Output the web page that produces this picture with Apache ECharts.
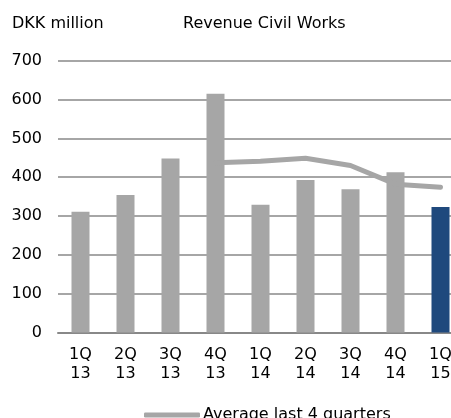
<!DOCTYPE html>
<html>
<head>
<meta charset="utf-8">
<script src="https://cdn.jsdelivr.net/npm/echarts@6/dist/echarts.min.js"></script>
<style>
html,body{margin:0;padding:0;background:#fff;overflow:hidden;width:451px;height:418px;}
#chart{width:463px;height:432px;}
</style>
</head>
<body>
<div id="chart"></div>
<script>
var categories = ['1Q\n13','2Q\n13','3Q\n13','4Q\n13','1Q\n14','2Q\n14','3Q\n14','4Q\n14','1Q\n15'];
var revenue = [311, 354, 448, 615, 329, 393, 369, 413, 323];
var average = [null, null, null, 437, 441, 449, 430, 382, 374];
var yTicks = [0, 100, 200, 300, 400, 500, 600, 700];

var FONT = 'DejaVu Sans';
var FS = 16;
var grey = '#a6a6a6';
var blue = '#1f497d';

var barData = revenue.map(function (v, i) {
  return i === revenue.length - 1 ? { value: v, itemStyle: { color: blue } } : v;
});

var chart = echarts.init(document.getElementById('chart'), null, { renderer: 'canvas' });
chart.setOption({
  animation: false,
  backgroundColor: '#fff',
  textStyle: { fontFamily: FONT },
  title: [
    { text: 'DKK million', left: 12, top: 16, padding: 0, textStyle: { fontFamily: FONT, fontSize: FS, fontWeight: 'normal', color: '#000' } },
    { text: 'Revenue Civil Works', left: 183, top: 16, padding: 0, textStyle: { fontFamily: FONT, fontSize: FS, fontWeight: 'normal', color: '#000' } }
  ],
  legend: {
    data: ['Average last 4 quarters'],
    left: 144,
    top: 407,
    padding: 0,
    itemWidth: 56,
    itemHeight: 5,
    itemGap: 0,
    icon: 'roundRect',
    textStyle: { fontFamily: FONT, fontSize: FS, color: '#000', padding: [0, 0, 0, -2] }
  },
  grid: { left: 58, right: 0, top: 60.7, bottom: 99.5, containLabel: false },
  xAxis: {
    type: 'category',
    data: categories,
    axisLine: { lineStyle: { color: '#888', width: 2 } },
    axisTick: { show: false },
    axisLabel: { fontFamily: FONT, fontSize: FS, color: '#000', margin: 13, lineHeight: 19 }
  },
  yAxis: {
    type: 'value',
    min: yTicks[0],
    max: yTicks[yTicks.length - 1],
    interval: 100,
    axisLine: { show: false },
    axisTick: { show: false },
    axisLabel: { fontFamily: FONT, fontSize: FS, color: '#000', margin: 16 },
    splitLine: { lineStyle: { color: '#888', width: 1.5 } }
  },
  series: [
    {
      name: 'Revenue',
      type: 'bar',
      data: barData,
      barWidth: 18,
      itemStyle: { color: grey },
      z: 2
    },
    {
      name: 'Average last 4 quarters',
      type: 'line',
      data: average,
      showSymbol: false,
      symbol: 'none',
      lineStyle: { color: grey, width: 5, cap: 'round', join: 'round' },
      itemStyle: { color: grey },
      z: 3
    }
  ]
});
</script>
</body>
</html>
